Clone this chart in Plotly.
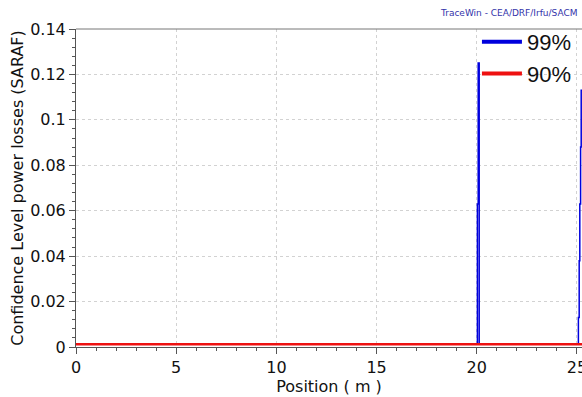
import plotly.graph_objects as go

# Data
pos_99 = [0.0, 20.03, 20.07, 20.12, 25.07, 25.11, 25.14, 25.18, 25.21, 25.25]
loss_99 = [0.0012, 0.063, 0.125, 0.0012, 0.013, 0.038, 0.063, 0.088, 0.113, 0.113]
pos_90 = [0.0, 25.3]
loss_90 = [0.0012, 0.0012]

x_ticks = [0, 5, 10, 15, 20, 25]
y_ticks = [0, 0.02, 0.04, 0.06, 0.08, 0.1, 0.12, 0.14]
y_tick_text = ["0", "0.02", "0.04", "0.06", "0.08", "0.1", "0.12", "0.14"]

FONT = "DejaVu Sans"
BLUE = "#0000dd"
RED = "#ee1111"

fig = go.Figure()
fig.add_trace(go.Scatter(x=pos_99, y=loss_99, mode="lines", name="99%", showlegend=False,
                         line=dict(color=BLUE, width=1.5, shape="hv")))
fig.add_trace(go.Scatter(x=pos_90, y=loss_90, mode="lines", name="90%", showlegend=False,
                         line=dict(color=RED, width=2.5)))
# legend entries with thicker line samples
fig.add_trace(go.Scatter(x=[None], y=[None], mode="lines", name="99%",
                         line=dict(color=BLUE, width=4)))
fig.add_trace(go.Scatter(x=[None], y=[None], mode="lines", name="90%",
                         line=dict(color=RED, width=4)))

axis_common = dict(showline=True, linecolor="#555555", linewidth=1, mirror=False,
                   ticks="outside", ticklen=6, tickcolor="#555555",
                   showgrid=True, gridcolor="#d2d2d2", griddash="dot", gridwidth=1,
                   zeroline=False, ticklabeloverflow="allow", automargin=False,
                   tickfont=dict(family=FONT, size=16, color="#111111"))

fig.update_layout(
    width=582, height=397,
    margin=dict(l=76, r=0, t=29, b=50),
    paper_bgcolor="white", plot_bgcolor="white",
    showlegend=True,
    legend=dict(x=0.99, y=1.025, xanchor="right", yanchor="top",
                bgcolor="rgba(0,0,0,0)", font=dict(family="Liberation Sans", size=22, color="#111111"),
                tracegroupgap=0, itemwidth=40),
    xaxis=dict(range=[0, 25.25], tickvals=x_ticks,
               title=dict(text="Position ( m )", font=dict(family=FONT, size=16, color="#111111"), standoff=4),
               minor=dict(dtick=1, ticks="outside", ticklen=3, tickcolor="#555555", showgrid=False),
               **axis_common),
    yaxis=dict(range=[0, 0.14], tickvals=y_ticks, ticktext=y_tick_text,
               title=dict(text="Confidence Level power losses (SARAF)", font=dict(family=FONT, size=16, color="#111111"), standoff=2),
               minor=dict(dtick=0.004, ticks="outside", ticklen=3, tickcolor="#555555", showgrid=False),
               **axis_common),
    shapes=[dict(type="line", xref="paper", yref="paper", x0=0, x1=1, y0=1, y1=1,
                 line=dict(color="#777777", width=1))],
    annotations=[dict(text="TraceWin - CEA/DRF/Irfu/SACM", xref="paper", yref="paper",
                      x=(438 - 76) / 506, y=1 + (29 - 13) / 318, xanchor="left", yanchor="middle",
                      showarrow=False, font=dict(family=FONT, size=9, color="#3333aa"))],
)

fig.write_html("out.html")
